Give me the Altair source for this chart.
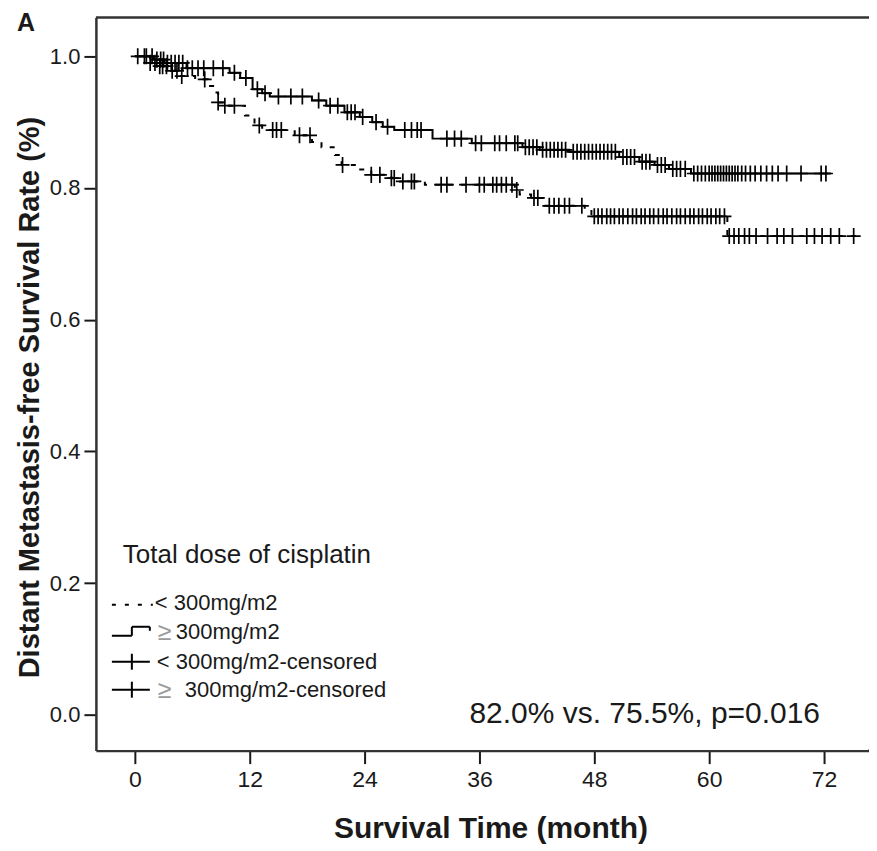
import altair as alt
import pandas as pd

# ---------------- data ----------------
hi_time = [0, 1.9, 3.1, 5.4, 9.9, 11.0, 12.3, 13.3, 14.1, 18.5, 20.0, 21.9, 23.5, 24.8,
           25.9, 27.1, 31.1, 35.2, 40.5, 42.3, 45.4, 50.6, 52.7, 54.3, 55.8, 58.1, 72.7]
hi_surv = [1.0, 0.995, 0.99, 0.982, 0.975, 0.967, 0.95, 0.944, 0.939, 0.933, 0.925, 0.915,
           0.908, 0.9, 0.893, 0.888, 0.875, 0.868, 0.862, 0.858, 0.855, 0.847, 0.84, 0.835,
           0.829, 0.822, 0.822]

lo_time = [0, 1.6, 2.6, 3.7, 4.7, 6.3, 7.6, 8.3, 8.7, 9.4, 11.5, 12.5, 13.3, 16.7, 18.5,
           19.5, 20.9, 21.6, 23.3, 24.7, 26.8, 27.7, 30.3, 39.7, 40.2, 41.4, 42.8, 47.0,
           47.7, 61.9, 75.5]
lo_surv = [1.0, 0.99, 0.985, 0.978, 0.97, 0.965, 0.955, 0.945, 0.93, 0.925, 0.91, 0.895,
           0.888, 0.88, 0.87, 0.862, 0.85, 0.835, 0.828, 0.82, 0.815, 0.81, 0.805, 0.797,
           0.79, 0.785, 0.773, 0.768, 0.757, 0.727, 0.727]

hi_cens = [0.3, 1.2, 1.8, 2.3, 2.7, 3.0, 3.4, 3.8, 4.2, 4.6, 5.0, 5.5, 6.0, 6.6, 7.2, 8.2,
           9.2, 10.4, 11.6, 12.8, 13.6, 15.0, 16.3, 17.5, 19.2, 20.4, 21.2, 22.2, 22.6,
           23.0, 23.8, 25.2, 26.4, 28.2, 28.9, 29.5, 29.9, 32.6, 33.4, 34.1, 35.6, 36.2,
           37.6, 38.1, 38.8, 39.7, 40.0, 40.8, 41.2, 41.6, 42.0, 42.6, 43.0, 43.4, 43.8,
           44.2, 44.6, 45.0, 45.8, 46.2, 46.6, 47.0, 47.4, 47.8, 48.2, 48.6, 49.0, 49.4,
           49.8, 50.2, 51.0, 51.4, 51.8, 52.2, 53.0, 53.4, 53.8, 54.6, 55.0, 55.4, 56.2,
           56.6, 57.0, 57.5, 58.4, 58.8, 59.2, 59.6, 60.0, 60.3, 60.6, 60.9, 61.2, 61.5,
           61.8, 62.1, 62.4, 62.7, 63.0, 63.4, 63.8, 64.3, 64.8, 65.4, 66.0, 66.6, 67.2,
           68.1, 69.6, 71.7, 72.2]

lo_cens = [1.0, 1.6, 2.1, 2.6, 2.9, 3.3, 3.9, 4.4, 4.9, 7.3, 8.7, 9.4, 10.4, 13.0, 14.4,
           14.8, 15.3, 17.2, 18.3, 21.7, 24.7, 25.6, 26.8, 27.1, 28.0, 28.9, 29.2, 32.0,
           32.6, 34.6, 36.0, 36.5, 37.4, 37.8, 38.3, 38.8, 39.4, 39.9, 41.7, 42.1, 43.3,
           43.8, 44.3, 44.9, 45.4, 46.7, 48.0, 48.4, 48.8, 49.3, 49.7, 50.1, 50.6, 51.0,
           51.5, 52.0, 52.4, 52.9, 53.3, 53.8, 54.2, 54.7, 55.2, 55.6, 56.1, 56.6, 57.0,
           57.5, 58.0, 58.4, 58.9, 59.3, 59.8, 60.2, 60.7, 61.1, 61.6, 62.1, 62.6, 63.1,
           63.7, 64.2, 64.9, 66.1, 67.1, 67.8, 68.7, 70.2, 71.0, 71.8, 72.7, 73.6, 75.1]

x_ticks = [0, 12, 24, 36, 48, 60, 72]
y_ticks = [0.0, 0.2, 0.4, 0.6, 0.8, 1.0]

panel_label = "A"
x_title = "Survival Time (month)"
y_title = "Distant Metastasis-free Survival Rate (%)"
legend_title = "Total dose of cisplatin"
legend_texts = ["< 300mg/m2", "300mg/m2", "< 300mg/m2-censored", "300mg/m2-censored"]
geq_sign = "\u2265"
annotation = "82.0% vs. 75.5%, p=0.016"


def surv_at(times, survs, t):
    s = survs[0]
    for ti, si in zip(times, survs):
        if ti <= t:
            s = si
        else:
            break
    return s


curves = pd.DataFrame(
    [{"group": "hi", "t": t, "s": s} for t, s in zip(hi_time, hi_surv)]
    + [{"group": "lo", "t": t, "s": s} for t, s in zip(lo_time, lo_surv)]
)
cens = pd.DataFrame(
    [{"group": "hi", "t": t, "s": surv_at(hi_time, hi_surv, t)} for t in hi_cens]
    + [{"group": "lo", "t": t, "s": surv_at(lo_time, lo_surv, t)} for t in lo_cens]
)

# ---------------- layout ----------------
W, H = 774, 734
FONT = "Liberation Sans"
INK = "#1a1a1a"

xscale = alt.Scale(domain=[-4.07, 76.7], nice=False, zero=False)
yscale = alt.Scale(domain=[-0.0545, 1.059], nice=False, zero=False)

X = alt.X("t:Q", scale=xscale, axis=alt.Axis(
    values=x_ticks, format="d", title=x_title, grid=False,
    labelFont=FONT, labelFontSize=23, labelColor=INK, labelPadding=5,
    tickSize=13, tickWidth=2, tickColor=INK, domainColor="#333333", domainWidth=2.5,
    titleFont=FONT, titleFontSize=30, titleFontWeight="bold", titleColor=INK,
    titleX=395, titleY=78, titleBaseline="middle", titleAlign="center"))
Y = alt.Y("s:Q", scale=yscale, axis=alt.Axis(
    values=y_ticks, format=".1f", title=y_title, grid=False,
    labelFont=FONT, labelFontSize=22, labelColor=INK, labelPadding=4,
    tickSize=12, tickWidth=2, tickColor=INK, domainColor="#333333", domainWidth=2.5,
    titleFont=FONT, titleFontSize=29, titleFontWeight="bold", titleColor=INK,
    titleAngle=-90, titleX=-66, titleY=380, titleBaseline="middle", titleAlign="center"))

hi_line = alt.Chart(curves).transform_filter(alt.datum.group == "hi").mark_line(
    interpolate="step-after", color="black", strokeWidth=2).encode(x=X, y=Y)
lo_line = alt.Chart(curves).transform_filter(alt.datum.group == "lo").mark_line(
    interpolate="step-after", color="black", strokeWidth=2, strokeDash=[5, 8]).encode(x=X, y=Y)

PLUS = "M-1,0L1,0M0,-1.15L0,1.15"
cens_pts = alt.Chart(cens).mark_point(
    shape=PLUS, size=196, filled=False, color="black", strokeWidth=1.7, opacity=1
).encode(x=X, y=Y)

one = pd.DataFrame({"k": [0]})


def txt(text, x, y, size, color=INK, weight="normal", font=FONT, align="left"):
    return alt.Chart(one).mark_text(
        text=text, align=align, baseline="middle", fontSize=size, font=font,
        fontWeight=weight, color=color
    ).encode(x=alt.value(x), y=alt.value(y))


def rule(x1, x2, y1, y2, dash=None, width=2, color="black"):
    kw = dict(color=color, strokeWidth=width)
    if dash:
        kw["strokeDash"] = dash
    return alt.Chart(one).mark_rule(**kw).encode(
        x=alt.value(x1), x2=alt.value(x2), y=alt.value(y1), y2=alt.value(y2))


layers = [hi_line, lo_line, cens_pts]

# top frame line and extension of the bottom frame to the page edge
layers.append(rule(0, W + 10, 0, 0, width=2.5, color="#333333"))
layers.append(rule(W - 1, W + 10, H, H, width=2.5, color="#333333"))

# panel label and annotation
layers.append(txt(panel_label, -79, 6, 25, weight="bold"))
layers.append(txt(annotation, 374, 697, 30))

# legend
layers.append(txt(legend_title, 27, 538, 26))
ly = [586, 615, 645, 673]
# entry 1: dashed line glyph
layers.append(rule(16, 57, ly[0] + 2, ly[0] + 2, dash=[4, 9], width=2))
layers.append(txt(legend_texts[0], 59, ly[0], 22))
# entry 2: step line glyph
layers.append(rule(16, 36, ly[1] + 4, ly[1] + 4))
layers.append(rule(36, 36, ly[1] - 5, ly[1] + 4))
layers.append(rule(36, 54, ly[1] - 5, ly[1] - 5))
layers.append(rule(54, 54, ly[1] - 5, ly[1] - 1))
layers.append(txt(geq_sign, 62, ly[1], 25, color="#9a9a9a"))
layers.append(txt(legend_texts[1], 80, ly[1], 22))
# entries 3 and 4: censor glyphs
for yy in (ly[2], ly[3]):
    layers.append(rule(16, 54, yy, yy))
    layers.append(rule(36, 36, yy - 8, yy + 8))
layers.append(txt(legend_texts[2], 61, ly[2], 22))
layers.append(txt(geq_sign, 62, ly[3], 25, color="#9a9a9a"))
layers.append(txt(legend_texts[3], 89, ly[3], 22))

chart = alt.layer(*layers).properties(
    width=W, height=H,
    autosize=alt.AutoSizeParams(type="none"),
    padding={"left": 88, "top": 9, "right": 0, "bottom": 96},
    background="white",
).configure_view(stroke=None)

chart.save("out.html", embed_options={"renderer": "svg", "actions": False})
